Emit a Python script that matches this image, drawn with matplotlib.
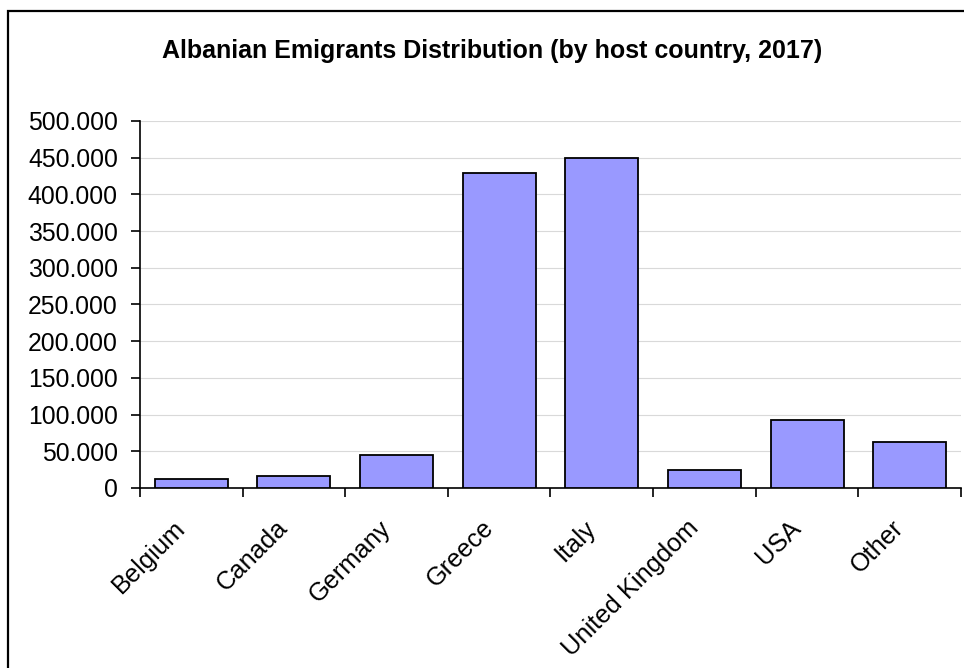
import matplotlib.pyplot as plt
from matplotlib.patches import Rectangle
from matplotlib.ticker import FuncFormatter, FixedLocator
from matplotlib.transforms import ScaledTranslation
import numpy as np

plt.rcParams['font.family'] = ['Liberation Sans', 'DejaVu Sans']

# emigrants by host country, 2017
countries = ['Belgium', 'Canada', 'Germany', 'Greece', 'Italy',
             'United Kingdom', 'USA', 'Other']
emigrants = [12000, 16000, 45000, 429000, 449000, 25000, 93000, 62000]

fig = plt.figure(figsize=(9.64, 6.68), dpi=100)
ax = fig.add_axes([0.1452, 0.2695, 0.8517, 0.5494])

x = np.arange(len(countries))
ax.bar(x, emigrants, width=0.71, color='#9999FF', edgecolor='black',
       linewidth=1.3, zorder=3)

ax.set_xlim(-0.5, len(countries) - 0.5)
ax.set_ylim(0, 500000)
ax.set_yticks(np.arange(0, 500001, 50000))
ax.yaxis.set_major_formatter(FuncFormatter(
    lambda v, p: '0' if v == 0 else f'{int(v):,}'.replace(',', '.')))

# tick marks sit between categories, labels at the centres
ax.xaxis.set_major_locator(FixedLocator(np.arange(-0.5, len(countries), 1.0)))
ax.xaxis.set_minor_locator(FixedLocator(x))
ax.set_xticklabels([''] * (len(countries) + 1))
ax.set_xticklabels(countries, minor=True, rotation=45, ha='right',
                   va='center', rotation_mode='anchor', fontsize=18.3)
ax.tick_params(axis='x', which='minor', length=0, pad=26)
ax.tick_params(axis='x', which='major', length=6.5, width=1.2, direction='out')
ax.tick_params(axis='y', length=6.5, width=1.2, direction='out', labelsize=17.8, pad=9.5)
shift = ScaledTranslation(-7 / 72, 0, fig.dpi_scale_trans)
for lbl in ax.get_xticklabels(minor=True):
    lbl.set_transform(lbl.get_transform() + shift)

ax.grid(axis='y', color='#d9d9d9', linewidth=0.8, zorder=0)
for side in ['top', 'right']:
    ax.spines[side].set_visible(False)
for side in ['left', 'bottom']:
    ax.spines[side].set_linewidth(1.2)

fig.text(0.511, 0.924, 'Albanian Emigrants Distribution (by host country, 2017)',
         ha='center', va='center', fontsize=18, fontweight='bold')

# chart frame
fig.patches.append(Rectangle((0.0083, -0.1), 1.2, 1.0835, transform=fig.transFigure,
                             fill=False, edgecolor='black', linewidth=1.6))

fig.savefig('out.png', dpi=100)
